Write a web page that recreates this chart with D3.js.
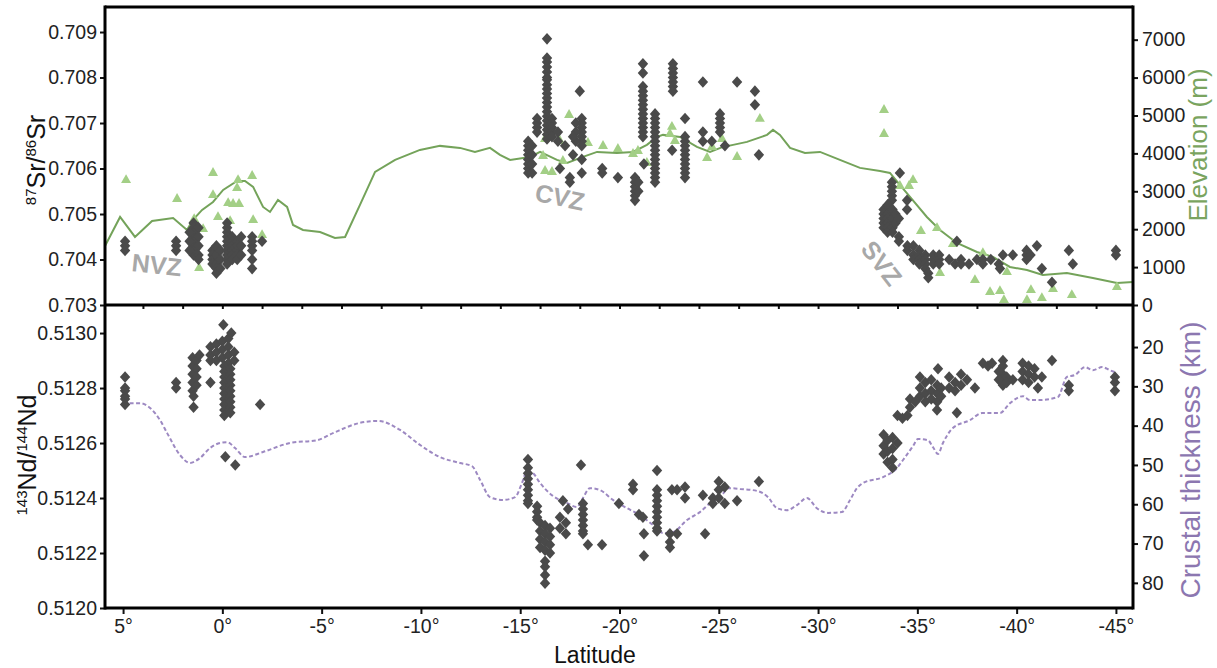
<!DOCTYPE html>
<html>
<head>
<meta charset="utf-8">
<script src="https://cdn.jsdelivr.net/npm/d3@7"></script>
<style>
  body { margin: 0; background: #fff; }
  svg text { font-family: "Liberation Sans", Arial, sans-serif; }
</style>
</head>
<body>
<div id="chart"></div>
<script>
// ---- data (latitude in degrees, negative = south) ----

// elevation profile along the arc (m)
const elevProfile = [
  [5.91,1558],[5.15,2323],[4.40,1795],[3.54,2218],[2.48,2297],[1.78,1980],[1.48,2244],[1.02,2508],
  [0.47,2719],[-0.04,3036],[-0.74,3274],[-1.14,3274],[-1.55,3115],[-2.05,2587],[-2.40,2455],[-2.80,2772],
  [-3.26,2587],[-3.56,2112],[-4.06,1980],[-4.92,1927],[-5.67,1769],[-6.18,1795],[-6.93,2640],[-7.69,3511],
  [-8.70,3828],[-9.95,4092],[-10.96,4198],[-11.97,4145],[-12.72,4039],[-13.48,4145],[-13.98,3960],[-14.49,3828],
  [-15.49,3907],[-16.00,4039],[-16.85,3828],[-17.36,3749],[-18.16,3907],[-18.87,4039],[-19.87,4013],[-20.68,4039],
  [-21.38,4224],[-21.89,4435],[-22.19,4488],[-23.05,4435],[-23.90,4171],[-24.56,4039],[-25.21,4171],[-25.72,4224],
  [-26.42,4303],[-27.43,4488],[-27.73,4620],[-28.08,4488],[-28.59,4145],[-29.34,4013],[-30.10,4039],[-31.10,3828],
  [-32.11,3617],[-33.12,3538],[-33.62,3485],[-34.12,3168],[-34.63,2851],[-35.48,2323],[-36.14,1980],[-36.99,1637],
  [-38.00,1399],[-38.81,1267],[-39.66,1003],[-40.52,924],[-41.32,792],[-42.53,845],[-43.84,713],[-45.05,581],[-45.86,607]
];

// volcano summit elevations (m)
const volcanoElev = [
  [4.85,3326],[2.28,2825],[0.47,3511],[0.47,2930],[-0.79,3326],[-0.74,3115],[-1.50,3432],[-0.29,2719],
  [-0.54,2693],[-0.84,2693],[0.22,2350],[1.42,2297],[-0.39,2244],[-1.55,2270],[0.97,2033],[-2.00,1874],[1.17,1003],
  [-17.46,5042],[-16.25,4409],[-17.00,4356],[-18.41,4303],[-19.17,4224],[-19.92,4145],[-20.68,4013],[-20.93,4092],
  [-16.25,3564],[-16.60,3538],[-16.15,3960],[-17.15,3828],[-22.64,4726],[-22.54,4541],[-22.79,4356],[-24.41,3907],
  [-24.66,4198],[-25.16,4409],[-25.92,3934],[-27.07,4937],[-21.38,3775],
  [-33.32,5174],[-33.32,4541],[-34.12,3168],[-34.58,3168],[-34.78,3326],[-35.18,1980],[-35.99,2059],[-36.79,1637],
  [-36.14,871],[-37.90,686],[-38.30,1399],[-38.66,370],[-39.16,396],[-39.36,158],[-39.51,898],[-40.52,158],
  [-40.72,422],[-41.27,211],[-41.83,449],[-42.78,290],[-45.05,502]
];

// 87Sr/86Sr
const srNVZ = [
  [4.9,0.7044],[4.9,0.7043],[4.9,0.7042],
  [2.33,0.7044],[2.33,0.7043],[2.33,0.7042],
  [1.45,0.7048],[1.45,0.7047],[1.45,0.7046],[1.45,0.7045],[1.45,0.7044],[1.45,0.7043],[1.45,0.7042],[1.45,0.7041],
  [1.2,0.7047],[1.2,0.7045],[1.2,0.7043],[1.2,0.7041],[1.2,0.7040],
  [1.65,0.7046],[1.65,0.7044],[1.65,0.7042],
  [0.5,0.7042],[0.5,0.7041],[0.5,0.7040],[0.5,0.7039],
  [0.3,0.7043],[0.3,0.7041],[0.3,0.7039],[0.3,0.7038],[0.3,0.7037],
  [0.1,0.7042],[0.1,0.7040],[0.1,0.7038],
  [-0.24,0.7048],[-0.24,0.7047],[-0.24,0.7046],[-0.24,0.7045],[-0.24,0.7044],[-0.24,0.7043],[-0.24,0.7042],[-0.24,0.7041],[-0.24,0.7040],[-0.24,0.7039],
  [-0.5,0.7045],[-0.5,0.7044],[-0.5,0.7043],[-0.5,0.7042],[-0.5,0.7041],[-0.5,0.7040],
  [-0.75,0.7044],[-0.75,0.7043],[-0.75,0.7042],[-0.75,0.7041],[-0.75,0.7040],
  [-0.95,0.7045],[-0.95,0.7043],[-0.95,0.7041],
  [-1.5,0.7045],[-1.5,0.7044],[-1.5,0.7043],[-1.5,0.7042],[-1.5,0.7040],[-1.5,0.7038],
  [-2.0,0.7044]
];
const srCVZ = [
  [-16.35,0.70885],[-16.35,0.70843],[-16.35,0.70834],[-16.35,0.70823],[-16.35,0.70812],[-16.35,0.7080],[-16.35,0.70795],
  [-16.35,0.70784],[-16.35,0.70775],[-16.35,0.70765],[-16.35,0.70755],[-16.35,0.70745],[-16.35,0.70735],[-16.35,0.70725],
  [-16.35,0.70715],[-16.35,0.70705],[-16.35,0.70695],[-16.35,0.70685],[-16.35,0.70675],[-16.35,0.70665],
  [-15.85,0.7071],[-15.85,0.7070],[-15.85,0.7069],[-15.85,0.7068],
  [-15.4,0.7066],[-15.4,0.7065],[-15.4,0.7064],[-15.4,0.7063],[-15.4,0.7062],[-15.4,0.7061],[-15.4,0.7060],[-15.4,0.7059],
  [-15.6,0.7065],[-15.6,0.7063],[-15.6,0.7061],[-15.6,0.7059],
  [-16.6,0.7071],[-16.6,0.7070],[-16.6,0.7069],[-16.6,0.7068],[-16.6,0.7067],
  [-16.9,0.7068],[-16.9,0.7066],
  [-18.0,0.7077],
  [-18.1,0.7071],[-18.1,0.7070],[-18.1,0.7069],[-18.1,0.7068],[-18.1,0.7067],[-18.1,0.7066],[-18.1,0.7065],
  [-17.8,0.7070],[-17.8,0.7068],[-17.8,0.7066],
  [-17.66,0.7067],[-17.66,0.7063],[-17.26,0.7065],[-17.0,0.7060],[-17.5,0.7058],[-17.5,0.7057],
  [-18.1,0.7062],[-18.1,0.7059],[-19.13,0.7060],[-19.13,0.7059],[-19.92,0.7058],
  [-20.78,0.7058],[-20.78,0.7057],[-20.78,0.7056],[-20.78,0.7055],[-20.78,0.7054],[-20.78,0.7053],
  [-20.95,0.7057],[-20.95,0.7055],[-21.23,0.7061],
  [-21.18,0.7083],[-21.18,0.7081],[-21.18,0.7078],[-21.18,0.7077],[-21.18,0.7076],[-21.18,0.7075],[-21.18,0.7074],
  [-21.18,0.7073],[-21.18,0.7072],[-21.18,0.7071],[-21.18,0.7070],[-21.18,0.7069],[-21.18,0.7068],[-21.18,0.7067],
  [-21.79,0.7072],[-21.79,0.7071],[-21.79,0.7070],[-21.79,0.7069],[-21.79,0.7068],[-21.79,0.7067],[-21.79,0.7066],[-21.79,0.7065],
  [-21.79,0.7064],[-21.79,0.7063],[-21.79,0.7062],[-21.79,0.7061],[-21.79,0.7060],[-21.79,0.7059],[-21.79,0.7058],[-21.79,0.7057],
  [-22.69,0.7083],[-22.69,0.7082],[-22.69,0.7081],[-22.69,0.7080],[-22.69,0.7079],[-22.69,0.7078],[-22.69,0.7077],
  [-23.3,0.7071],[-23.3,0.7067],[-23.3,0.7066],[-23.3,0.7065],[-23.3,0.7064],[-23.3,0.7063],[-23.3,0.7062],[-23.3,0.7061],
  [-23.3,0.7060],[-23.3,0.7059],[-23.3,0.7058],
  [-22.65,0.7064],[-24.2,0.7079],[-24.2,0.7068],[-24.2,0.7066],[-24.65,0.7066],
  [-25.06,0.7072],[-25.06,0.7071],[-25.06,0.7070],[-25.06,0.7069],[-25.06,0.7068],
  [-25.31,0.7065],[-25.92,0.7079],[-26.82,0.7077],[-26.82,0.7074],[-27.02,0.7063]
];
const srSVZ = [
  [-34.12,0.7059],
  [-33.72,0.7057],[-33.72,0.7056],[-33.72,0.7055],[-33.72,0.7054],[-33.72,0.7053],
  [-33.3,0.7051],[-33.3,0.7050],[-33.3,0.7049],[-33.3,0.7048],[-33.3,0.7047],
  [-33.5,0.7052],[-33.5,0.7050],[-33.5,0.7049],[-33.5,0.7048],[-33.5,0.7047],[-33.5,0.7046],
  [-33.75,0.7051],[-33.75,0.7049],[-33.75,0.7047],[-33.75,0.7046],
  [-33.9,0.7050],[-33.9,0.7048],
  [-34.48,0.7053],[-34.48,0.7051],[-34.07,0.7049],[-34.07,0.7045],[-34.07,0.7044],
  [-34.5,0.7043],[-34.5,0.7042],
  [-34.8,0.7043],[-34.8,0.7041],[-34.8,0.7040],
  [-35.1,0.7042],[-35.1,0.7041],[-35.1,0.7040],[-35.1,0.7039],
  [-35.4,0.7041],[-35.4,0.7040],[-35.4,0.7039],[-35.4,0.7038],
  [-35.55,0.7037],[-35.55,0.7036],
  [-35.8,0.7041],[-35.8,0.7040],[-35.8,0.7039],
  [-36.1,0.7041],[-36.1,0.7040],[-36.1,0.7039],
  [-36.99,0.7044],
  [-36.6,0.7040],[-36.9,0.7039],[-37.2,0.7040],[-37.2,0.7039],[-37.6,0.7039],[-38.0,0.7040],
  [-38.3,0.7040],[-38.3,0.7039],[-38.7,0.7040],[-39.1,0.7039],[-39.16,0.7038],
  [-39.31,0.7041],[-39.81,0.7041],
  [-40.5,0.7042],[-40.5,0.7041],[-40.5,0.7040],[-40.7,0.7041],
  [-41.02,0.7043],[-41.27,0.7038],[-41.78,0.7035],[-42.63,0.7042],[-42.83,0.7039],
  [-45.0,0.7042],[-45.0,0.7041]
];

// crustal thickness profile (km)
const crustProfile = [
  [5.00,34.3],[4.14,34.3],[3.64,35.5],[3.14,38.6],[2.78,41.9],[2.13,47.5],[1.63,49.5],[1.12,48.2],
  [0.62,45.7],[0.12,44.4],[-0.24,44.2],[-0.64,45.7],[-1.14,48.0],[-2.05,46.7],[-3.41,44.4],[-4.77,43.7],
  [-5.57,41.9],[-6.93,39.3],[-7.84,38.8],[-8.95,41.1],[-9.95,44.9],[-10.96,48.0],[-11.97,49.5],[-12.57,50.3],
  [-12.98,53.8],[-13.48,58.2],[-14.13,58.9],[-14.74,58.2],[-15.09,54.6],[-15.34,51.6],[-15.64,52.1],[-16.00,54.6],
  [-16.60,57.7],[-17.36,59.7],[-17.86,60.7],[-18.16,58.4],[-18.51,55.9],[-19.02,56.4],[-19.67,58.9],[-20.38,61.0],
  [-21.03,62.8],[-21.69,65.3],[-22.19,67.3],[-22.69,67.1],[-23.40,64.0],[-24.05,62.0],[-24.56,59.7],[-25.16,57.7],
  [-25.46,55.9],[-26.07,56.1],[-26.92,56.6],[-27.48,58.2],[-27.93,61.0],[-28.43,61.5],[-28.94,60.2],[-29.44,58.4],
  [-29.94,61.0],[-30.50,62.2],[-31.20,62.0],[-31.61,58.9],[-31.96,55.9],[-32.26,54.6],[-33.27,53.1],[-33.97,50.8],
  [-34.27,48.8],[-34.78,45.2],[-35.03,43.4],[-35.53,43.7],[-35.79,45.5],[-36.04,47.2],[-36.29,44.4],[-36.79,40.6],
  [-37.65,38.6],[-38.25,36.8],[-39.16,36.8],[-39.66,34.3],[-40.32,32.5],[-40.67,33.5],[-41.17,33.5],[-42.08,32.7],
  [-42.53,27.6],[-42.94,27.1],[-43.44,25.1],[-43.84,25.9],[-44.30,25.1],[-44.70,25.9],[-45.05,26.6]
];

// 143Nd/144Nd
const ndNVZ = [
  [4.9,0.51284],[4.9,0.51280],[4.9,0.51279],[4.9,0.51277],[4.9,0.51276],[4.9,0.51274],
  [2.33,0.51282],[2.33,0.51280],
  [1.5,0.51291],[1.5,0.51288],[1.5,0.51285],[1.5,0.51282],[1.5,0.51279],
  [1.3,0.51290],[1.3,0.51287],[1.3,0.51284],[1.3,0.51281],[1.15,0.51292],
  [1.45,0.51277],[1.45,0.51273],[0.6,0.51282],
  [0.6,0.51295],[0.6,0.51292],[0.6,0.51290],
  [0.3,0.51296],[0.3,0.51293],[0.3,0.51290],
  [0.0,0.51297],[0.0,0.51294],[0.0,0.51291],
  [-0.3,0.51298],[-0.3,0.51295],[-0.3,0.51292],[-0.3,0.51289],
  [-0.6,0.51293],[-0.6,0.51290],
  [-0.05,0.51303],[-0.45,0.51300],
  [-0.1,0.51288],[-0.1,0.51286],[-0.1,0.51284],[-0.1,0.51282],[-0.1,0.51280],[-0.1,0.51278],[-0.1,0.51276],
  [-0.1,0.51274],[-0.1,0.51272],[-0.1,0.51270],
  [-0.4,0.51287],[-0.4,0.51285],[-0.4,0.51283],[-0.4,0.51281],[-0.4,0.51279],[-0.4,0.51277],[-0.4,0.51275],
  [-0.4,0.51273],[-0.4,0.51271],
  [-1.9,0.51274],[-0.15,0.51255],[-0.65,0.51252]
];
const ndCVZ = [
  [-15.39,0.51254],[-15.39,0.51251],[-15.39,0.51249],[-15.39,0.51247],[-15.39,0.51245],[-15.39,0.51243],
  [-15.39,0.51241],[-15.39,0.51239],[-15.39,0.51238],
  [-15.85,0.51237],[-15.85,0.51235],[-15.85,0.51233],[-15.85,0.51232],
  [-16.0,0.51231],[-16.0,0.51228],[-16.0,0.51225],[-16.0,0.51222],
  [-16.25,0.51230],[-16.25,0.51227],[-16.25,0.51224],[-16.25,0.51221],
  [-16.5,0.51229],[-16.5,0.51226],[-16.5,0.51223],[-16.5,0.51220],
  [-16.25,0.51217],[-16.25,0.51215],[-16.25,0.51212],[-16.25,0.51209],
  [-17.15,0.51239],[-17.41,0.51236],
  [-17.0,0.51233],[-17.0,0.51229],[-17.3,0.51231],[-17.3,0.51227],
  [-18.06,0.51252],
  [-18.16,0.51238],[-18.16,0.51236],[-18.16,0.51234],[-18.16,0.51232],[-18.16,0.51230],[-18.16,0.51228],[-18.16,0.51227],
  [-18.41,0.51223],[-19.12,0.51223],[-19.97,0.51238],
  [-20.68,0.51245],[-20.68,0.51243],[-20.98,0.51234],[-21.18,0.51233],[-21.23,0.51227],[-21.23,0.51219],
  [-21.89,0.51250],[-21.89,0.51243],[-21.89,0.51241],[-21.89,0.51239],[-21.89,0.51237],[-21.89,0.51235],
  [-21.89,0.51233],[-21.89,0.51231],[-21.89,0.51229],[-21.89,0.51228],
  [-22.54,0.51227],[-22.54,0.51224],[-22.54,0.51222],[-22.9,0.51227],
  [-22.64,0.51243],[-22.9,0.51243],[-23.3,0.51244],[-23.3,0.51240],
  [-24.31,0.51227],[-24.2,0.51241],
  [-24.7,0.51240],[-24.7,0.51238],[-25.0,0.51246],[-25.0,0.51243],[-25.0,0.51240],[-25.3,0.51244],[-25.3,0.51238],
  [-25.92,0.51239],[-27.02,0.51246]
];
const ndSVZ = [
  [-41.78,0.51290],[-38.3,0.51289],[-38.56,0.51288],[-38.76,0.51289],
  [-39.31,0.51290],[-39.31,0.51288],[-39.31,0.51285],[-39.31,0.51283],[-39.31,0.51281],
  [-39.1,0.51286],[-39.1,0.51283],[-39.5,0.51284],[-39.5,0.51282],[-39.81,0.51283],
  [-40.3,0.51289],[-40.3,0.51286],[-40.3,0.51283],[-40.6,0.51288],[-40.6,0.51285],[-40.6,0.51282],
  [-40.9,0.51287],[-40.9,0.51284],[-41.07,0.51280],[-41.27,0.51284],
  [-36.04,0.51287],
  [-35.13,0.51284],[-35.13,0.51280],[-35.13,0.51277],[-35.4,0.51282],[-35.4,0.51278],[-35.4,0.51275],
  [-35.7,0.51283],[-35.7,0.51279],[-35.7,0.51276],[-36.0,0.51281],[-36.0,0.51278],[-36.0,0.51275],
  [-36.2,0.51280],[-36.2,0.51277],[-35.99,0.51272],
  [-36.6,0.51284],[-36.6,0.51280],[-36.9,0.51282],[-36.9,0.51279],[-37.2,0.51285],[-37.2,0.51281],
  [-37.5,0.51283],[-37.9,0.51280],[-36.99,0.51271],
  [-34.63,0.51276],[-34.63,0.51273],[-34.9,0.51275],
  [-34.0,0.51270],[-34.25,0.51269],[-34.5,0.51270],
  [-33.3,0.51263],[-33.3,0.51259],[-33.3,0.51256],[-33.5,0.51261],[-33.5,0.51257],[-33.5,0.51253],
  [-33.75,0.51262],[-33.75,0.51258],[-33.75,0.51254],[-33.75,0.51251],[-34.0,0.51260],
  [-42.63,0.51281],[-42.63,0.51279],
  [-44.95,0.51284],[-44.95,0.51282],[-44.95,0.51279]
];

const srTicks = [0.703, 0.704, 0.705, 0.706, 0.707, 0.708, 0.709];
const elevTicks = [0, 1000, 2000, 3000, 4000, 5000, 6000, 7000];
const ndTicks = [0.5120, 0.5122, 0.5124, 0.5126, 0.5128, 0.5130];
const crustTicks = [20, 30, 40, 50, 60, 70, 80];
const latTicks = [5, 0, -5, -10, -15, -20, -25, -30, -35, -40, -45];
const latMinorTicks = d3.range(4, -45, -2);

// ---- layout ----
const W = 1217, H = 668;
const L = 105, R = 1133, T = 7, MID = 305, B = 608;

const svg = d3.select("#chart").append("svg")
  .attr("width", W).attr("height", H);

const x = d3.scaleLinear().domain([5.91, -45.86]).range([L, R]);
const ySr = d3.scaleLinear().domain([0.703, 0.70955]).range([MID, T]);
const yElev = d3.scaleLinear().domain([0, 7862]).range([MID, T]);
const yNd = d3.scaleLinear().domain([0.5120, 0.513102]).range([B, MID]);
const yCrust = d3.scaleLinear().domain([9.3, 86.4]).range([MID, B]);

const diamond = "M0,-5.8L5.2,0L0,5.8L-5.2,0Z";
const triangle = "M0,-4.8L5,4L-5,4Z";
const dotColor = "#4a4a4a";

function styleAxis(g) {
  g.select(".domain").remove();
  g.selectAll(".tick line").attr("stroke", "#111").attr("stroke-width", 2);
  g.selectAll(".tick text").attr("fill", "#222").style("font-size", "19.5px")
    .style("font-family", "'Liberation Sans', Arial, sans-serif");
}

// ---- top panel ----
svg.append("path")
  .datum(elevProfile)
  .attr("fill", "none")
  .attr("stroke", "#74a35a")
  .attr("stroke-width", 2)
  .attr("d", d3.line().x(d => x(d[0])).y(d => yElev(d[1])));

svg.append("g").selectAll("path")
  .data(volcanoElev).enter().append("path")
  .attr("d", triangle)
  .attr("transform", d => `translate(${x(d[0])},${yElev(d[1])})`)
  .attr("fill", "#a3cf86");

svg.append("g").selectAll("path")
  .data(srNVZ.concat(srCVZ, srSVZ)).enter().append("path")
  .attr("d", diamond)
  .attr("transform", d => `translate(${x(d[0])},${ySr(d[1])})`)
  .attr("fill", dotColor);

// ---- bottom panel ----
svg.append("path")
  .datum(crustProfile)
  .attr("fill", "none")
  .attr("stroke", "#9d89c2")
  .attr("stroke-width", 2)
  .attr("stroke-dasharray", "4,2.5")
  .attr("d", d3.line().curve(d3.curveMonotoneX).x(d => x(d[0])).y(d => yCrust(d[1])));

svg.append("g").selectAll("path")
  .data(ndNVZ.concat(ndCVZ, ndSVZ)).enter().append("path")
  .attr("d", diamond)
  .attr("transform", d => `translate(${x(d[0])},${yNd(d[1])})`)
  .attr("fill", dotColor);

// ---- axes ----
svg.append("g").attr("transform", `translate(${L},0)`)
  .call(d3.axisLeft(ySr).tickValues(srTicks).tickFormat(d3.format(".3f")).tickSize(5).tickPadding(3))
  .call(styleAxis);

svg.append("g").attr("transform", `translate(${R},0)`)
  .call(d3.axisRight(yElev).tickValues(elevTicks).tickFormat(d3.format("d")).tickSize(5).tickPadding(4))
  .call(styleAxis);

svg.append("g").attr("transform", `translate(${L},0)`)
  .call(d3.axisLeft(yNd).tickValues(ndTicks).tickFormat(d3.format(".4f")).tickSize(5).tickPadding(3))
  .call(styleAxis);

svg.append("g").attr("transform", `translate(${R},0)`)
  .call(d3.axisRight(yCrust).tickValues(crustTicks).tickFormat(d3.format("d")).tickSize(5).tickPadding(4))
  .call(styleAxis);

svg.append("g").attr("transform", `translate(0,${B})`)
  .call(d3.axisBottom(x).tickValues(latTicks).tickFormat(d => d + "°").tickSize(6).tickPadding(5))
  .call(styleAxis);

// small ticks under the upper panel
svg.append("g").attr("transform", `translate(0,${MID})`)
  .call(d3.axisBottom(x).tickValues(latMinorTicks).tickFormat("").tickSize(4))
  .call(styleAxis);

// frames
const frame = svg.append("g").attr("fill", "none").attr("stroke", "#000").attr("stroke-width", 3);
frame.append("line").attr("x1", L).attr("x2", R).attr("y1", T).attr("y2", T);
frame.append("line").attr("x1", L).attr("x2", R).attr("y1", MID).attr("y2", MID);
frame.append("line").attr("x1", L).attr("x2", R).attr("y1", B).attr("y2", B);
frame.append("line").attr("x1", L).attr("x2", L).attr("y1", T - 1.5).attr("y2", B + 1.5);
frame.append("line").attr("x1", R).attr("x2", R).attr("y1", T - 1.5).attr("y2", B + 1.5);

// ---- axis titles ----
function isoLabel(cx, cy, parts, size) {
  const t = svg.append("text")
    .attr("transform", `translate(${cx},${cy}) rotate(-90)`)
    .attr("text-anchor", "middle")
    .attr("fill", "#111")
    .style("font-size", size + "px");
  parts.forEach(p => {
    if (p.sup) {
      t.append("tspan").text(p.sup).style("font-size", (size * 0.6) + "px").attr("dy", -size * 0.38);
    } else {
      t.append("tspan").text(p.txt).attr("dy", size * 0.38);
    }
  });
}
isoLabel(45, 160, [{sup: "87"}, {txt: "Sr/"}, {sup: "86"}, {txt: "Sr"}], 25);
isoLabel(36, 455, [{sup: "143"}, {txt: "Nd/"}, {sup: "144"}, {txt: "Nd"}], 25);

svg.append("text")
  .attr("transform", `translate(1207,145) rotate(-90)`)
  .attr("text-anchor", "middle")
  .attr("fill", "#7aa45f")
  .style("font-size", "26px")
  .text("Elevation (m)");

svg.append("text")
  .attr("transform", `translate(1200,460) rotate(-90)`)
  .attr("text-anchor", "middle")
  .attr("fill", "#8c77b0")
  .style("font-size", "28px")
  .text("Crustal thickness (km)");

svg.append("text")
  .attr("x", 595).attr("y", 663)
  .attr("text-anchor", "middle")
  .attr("fill", "#111")
  .style("font-size", "23px")
  .text("Latitude");

// ---- zone labels ----
const zones = [
  { name: "NVZ", lat: 3.3, sr: 0.70388, rot: 6 },
  { name: "CVZ", lat: -17.0, sr: 0.70537, rot: 12 },
  { name: "SVZ", lat: -33.2, sr: 0.70392, rot: 52 }
];
svg.append("g").selectAll("text")
  .data(zones).enter().append("text")
  .attr("transform", d => `translate(${x(d.lat)},${ySr(d.sr)}) rotate(${d.rot})`)
  .attr("text-anchor", "middle")
  .attr("dy", "0.35em")
  .attr("fill", "#a8a8a8")
  .style("font-size", "25px")
  .style("font-weight", "bold")
  .text(d => d.name);
</script>
</body>
</html>
